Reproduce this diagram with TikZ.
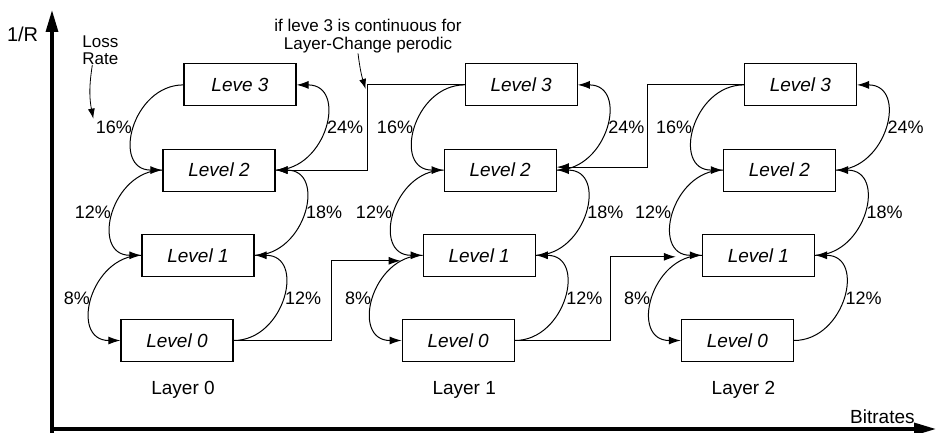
\documentclass[tikz,border=0pt]{standalone}
\usepackage{fontspec}
\setmainfont{Liberation Sans}
\usepackage{tikz}
\usetikzlibrary{arrows.meta, positioning, calc}

\begin{document}
\begin{tikzpicture}[x=1pt, y=1pt,
    level/.style={rectangle, draw, semithick, fill=white, minimum width=56pt, minimum height=21pt, inner sep=0pt, font=\fontsize{9.5}{11}\selectfont\itshape},
    fall/.style={draw, line width=0.5pt, -{Latex[length=6pt,width=4pt]}, out=180, in=180, looseness=1.5},
    climb/.style={draw, line width=0.5pt, -{Latex[length=6pt,width=4pt]}, out=0, in=0, looseness=1.5},
    hop/.style={draw, line width=0.5pt, -{Latex[length=6pt,width=4pt]}},
    note/.style={draw, line width=0.4pt, -{Latex[length=5pt,width=3.5pt]}},
    axis/.style={draw, line width=1.6pt, -{Triangle[length=11pt,width=6pt]}},
    pct/.style={inner sep=1pt, font=\fontsize{9}{10}\selectfont},
    layer/.style={inner sep=0pt, font=\fontsize{9.5}{11}\selectfont}
]
    \useasboundingbox (0,0) rectangle (468,-216.5);

    % axes
    \coordinate (ybot) at (26,-216.5);
    \coordinate (ytop) at (26,-5);
    \coordinate (xlft) at (25,-214.5);
    \coordinate (xrgt) at (468,-214.5);
    \path [axis] (ybot) -- (ytop);
    \path [axis] (xlft) -- (xrgt);
    \node [font=\fontsize{10}{12}\selectfont] (invr) at (11.3,-17) {1/R};
    \node [layer, anchor=east] (bitr) at (457.5,-208.5) {Bitrates};
    \node [anchor=west, align=left, inner sep=0pt, font=\fontsize{8.5}{8.5}\selectfont] (loss) at (41,-25) {Loss\\Rate};
    \node [align=center, inner sep=0pt, font=\fontsize{8.5}{9}\selectfont] (note) at (184,-18) {if leve 3 is continuous for\\Layer-Change perodic};

    % Layer 0
    \node [level] (l00) at (88.5,-170.25) {Level 0};
    \node [level, above=21pt of l00, xshift=10.5pt] (l01) {Level 1};
    \node [level, above=21pt of l01, xshift=10.5pt] (l02) {Level 2};
    \node [level, above=21pt of l02, xshift=10.5pt] (l03) {Leve 3};
    \node [layer, below=9.5pt of l00, xshift=3pt] (lay0) {Layer 0};

    % Layer 1
    \node [level, right=84pt of l00] (l10) {Level 0};
    \node [level, above=21pt of l10, xshift=10.5pt] (l11) {Level 1};
    \node [level, above=21pt of l11, xshift=10.5pt] (l12) {Level 2};
    \node [level, above=21pt of l12, xshift=10.5pt] (l13) {Level 3};
    \node [layer, below=9.5pt of l10, xshift=3pt] (lay1) {Layer 1};

    % Layer 2
    \node [level, right=83pt of l10] (l20) {Level 0};
    \node [level, above=21pt of l20, xshift=10.5pt] (l21) {Level 1};
    \node [level, above=21pt of l21, xshift=10.5pt] (l22) {Level 2};
    \node [level, above=21pt of l22, xshift=10.5pt] (l23) {Level 3};
    \node [layer, below=9.5pt of l20, xshift=3pt] (lay2) {Layer 2};

    % Loss rate transitions, Layer 0
    \path [fall] (l03.west) to node[pct, left] (p16a) {16\%} (l02.west);
    \path [fall] (l02.west) to node[pct, left] {12\%} (l01.west);
    \path [fall] (l01.west) to node[pct, left] {8\%} (l00.west);
    \path [climb] (l02.east) to node[pct, right] {24\%} (l03.east);
    \path [climb] (l01.east) to node[pct, right] {18\%} (l02.east);
    \path [climb] (l00.east) to node[pct, right] {12\%} (l01.east);

    % Loss rate transitions, Layer 1
    \path [fall] (l13.west) to node[pct, left] {16\%} (l12.west);
    \path [fall] (l12.west) to node[pct, left] {12\%} (l11.west);
    \path [fall] (l11.west) to node[pct, left] {8\%} (l10.west);
    \path [climb] (l12.east) to node[pct, right] {24\%} (l13.east);
    \path [climb] (l11.east) to node[pct, right] {18\%} (l12.east);
    \path [climb] (l10.east) to node[pct, right] {12\%} (l11.east);

    % Loss rate transitions, Layer 2
    \path [fall] (l23.west) to node[pct, left] {16\%} (l22.west);
    \path [fall] (l22.west) to node[pct, left] {12\%} (l21.west);
    \path [fall] (l21.west) to node[pct, left] {8\%} (l20.west);
    \path [climb] (l22.east) to node[pct, right] {24\%} (l23.east);
    \path [climb] (l21.east) to node[pct, right] {18\%} (l22.east);
    \path [climb] (l20.east) to node[pct, right] {12\%} (l21.east);

    % Layer changes
    \path [hop, shorten >=11pt] (l00.east) -- ++(49,0) |- ([yshift=-2.75pt]l11.west);
    \path [hop, shorten >=13pt] (l10.east) -- ++(48,0) |- ([yshift=-0.75pt]l21.west);
    \path [hop] (l13.west) -- ++(-48.5,0) coordinate (c1) |- (l02.east);
    \path [hop] (l23.west) -- ++(-48,0) |- ([yshift=1.5pt]l12.east);

    % Annotations
    \path [note] ([xshift=-4pt]loss.south) to[bend right=10] (p16a.north west);
    \path [note] ([xshift=-5pt]note.south) to[bend right=5] ([shift={(-1pt,-2pt)}]c1);
\end{tikzpicture}
\end{document}
